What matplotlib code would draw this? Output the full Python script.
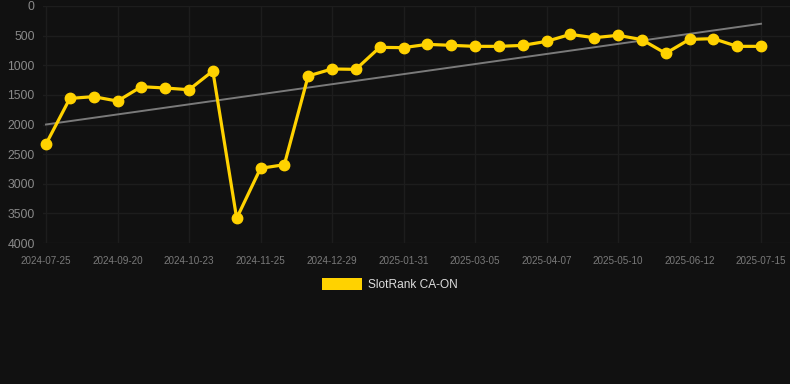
import matplotlib
matplotlib.use("Agg")
import matplotlib.pyplot as plt
from matplotlib.patches import Rectangle

# ---- data ----
tick_labels = ["2024-07-25", "2024-09-20", "2024-10-23", "2024-11-25", "2024-12-29",
               "2025-01-31", "2025-03-05", "2025-04-07", "2025-05-10", "2025-06-12",
               "2025-07-15"]
rank_values = [2330, 1560, 1530, 1605, 1362, 1384, 1413, 1097, 3583, 2740,
               2678, 1181, 1063, 1069, 698, 703, 647, 664, 681, 681,
               665, 597, 479, 535, 495, 568, 799, 563, 551, 681, 681]
trend_start = 2000
trend_end = 300
series_name = "SlotRank CA-ON"

W, H = 790, 384
BG = "#111111"
YELLOW = "#FFD200"

fig = plt.figure(figsize=(W / 100, H / 100), dpi=100, facecolor=BG)
ax_left, ax_right = 43, 790
ax_top, ax_bot = 6, 243
ax = fig.add_axes([ax_left / W, 1 - ax_bot / H, (ax_right - ax_left) / W, (ax_bot - ax_top) / H])
ax.set_facecolor(BG)

n = len(rank_values)
xs = list(range(n))

# x scale: index 0 at px 46, last index at px 761
px_per = (761 - 46) / (n - 1)
ax.set_xlim(-(46 - ax_left) / px_per, (n - 1) + (ax_right - 761) / px_per)
ax.set_ylim(4000, 0)

ax.plot([0, n - 1], [trend_start, trend_end], color="#7a7a7a", lw=1.4, zorder=2)
ax.plot(xs, rank_values, color=YELLOW, lw=2.3, marker="o", markersize=7.5,
        markerfacecolor=YELLOW, markeredgecolor=YELLOW, zorder=3, clip_on=False)

ax.set_yticks(range(0, 4001, 500))
ax.set_xticks(list(range(0, n, 3)))
ax.set_xticklabels(tick_labels)

for s in ax.spines.values():
    s.set_visible(False)
ax.grid(True, color="#1d1d1d", lw=1.0)
ax.set_axisbelow(True)
ax.tick_params(axis="both", length=0)
ax.tick_params(axis="y", pad=6, labelcolor="#8a8a8a", labelsize=8.8)
ax.tick_params(axis="x", pad=9, labelcolor="#7a7a7a", labelsize=7.1)
for lab in ax.get_xticklabels() + ax.get_yticklabels():
    lab.set_fontfamily("Liberation Sans")

# legend
fig.patches.append(Rectangle((322 / W, 1 - 290 / H), 40 / W, 12 / H,
                             transform=fig.transFigure, facecolor=YELLOW,
                             edgecolor=YELLOW, lw=0))
fig.text(368 / W, 1 - 284.5 / H, series_name, color="#dddddd", fontsize=8.6,
         family="Liberation Sans", va="center", ha="left")

fig.savefig("out.png", dpi=100, facecolor=BG)
